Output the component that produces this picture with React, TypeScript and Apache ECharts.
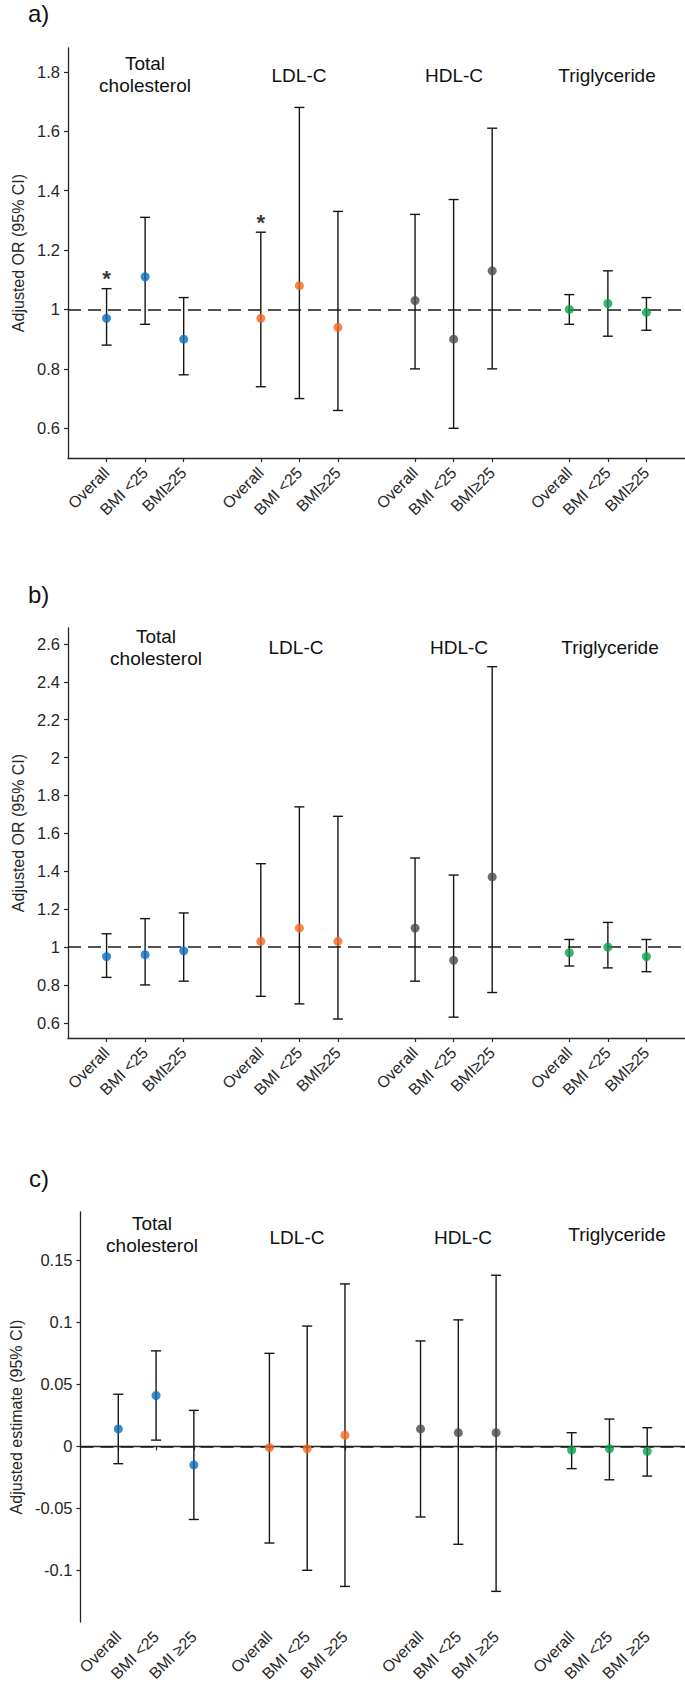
import React, { useEffect, useRef } from "react";
import * as echarts from "echarts";

// ---- data ----
const xPos = [1, 2, 3, 5, 6, 7, 9, 10, 11, 13, 14, 15];
const subLabelsAB = ["Overall", "BMI <25", "BMI≥25", "Overall", "BMI <25", "BMI≥25", "Overall", "BMI <25", "BMI≥25", "Overall", "BMI <25", "BMI≥25"];
const subLabelsC = ["Overall", "BMI <25", "BMI ≥25", "Overall", "BMI <25", "BMI ≥25", "Overall", "BMI <25", "BMI ≥25", "Overall", "BMI <25", "BMI ≥25"];
const groupNames = ["Total\ncholesterol", "LDL-C", "HDL-C", "Triglyceride"];
const groupColors = ["#0A6EBD", "#F4691F", "#4A4A4A", "#08A04B"];

const estA = [0.97, 1.11, 0.9, 0.97, 1.08, 0.94, 1.03, 0.9, 1.13, 1.0, 1.02, 0.99];
const loA = [0.88, 0.95, 0.78, 0.74, 0.7, 0.66, 0.8, 0.6, 0.8, 0.95, 0.91, 0.93];
const hiA = [1.07, 1.31, 1.04, 1.26, 1.68, 1.33, 1.32, 1.37, 1.61, 1.05, 1.13, 1.04];
const starsA = [[1, 1.12], [5, 1.31]];

const estB = [0.95, 0.96, 0.98, 1.03, 1.1, 1.03, 1.1, 0.93, 1.37, 0.97, 1.0, 0.95];
const loB = [0.84, 0.8, 0.82, 0.74, 0.7, 0.62, 0.82, 0.63, 0.76, 0.9, 0.89, 0.87];
const hiB = [1.07, 1.15, 1.18, 1.44, 1.74, 1.69, 1.47, 1.38, 2.48, 1.04, 1.13, 1.04];

const estC = [0.014, 0.041, -0.015, -0.001, -0.002, 0.009, 0.014, 0.011, 0.011, -0.003, -0.002, -0.004];
const loC = [-0.014, 0.005, -0.059, -0.078, -0.1, -0.113, -0.057, -0.079, -0.117, -0.018, -0.027, -0.024];
const hiC = [0.042, 0.077, 0.029, 0.075, 0.097, 0.131, 0.085, 0.102, 0.138, 0.011, 0.022, 0.015];

const ticksA = [0.6, 0.8, 1, 1.2, 1.4, 1.6, 1.8];
const ticksB = [0.6, 0.8, 1, 1.2, 1.4, 1.6, 1.8, 2, 2.2, 2.4, 2.6];
const ticksC = [-0.1, -0.05, 0, 0.05, 0.1, 0.15];

const FONT = "'Liberation Sans', Arial, Helvetica, sans-serif";
const AXIS_COLOR = "#262626";

function buildPanel(idx: number, est: number[], lo: number[], hi: number[], ref: number) {
  const series: any[] = [];
  series.push({
    type: "custom",
    xAxisIndex: idx,
    yAxisIndex: idx,
    z: 3,
    silent: true,
    data: xPos.map((x, i) => [x, lo[i], hi[i]]),
    encode: { x: 0, y: [1, 2] },
    renderItem: (params: any, api: any) => {
      const x = api.value(0);
      const top = api.coord([x, api.value(2)]);
      const bot = api.coord([x, api.value(1)]);
      const w = 5;
      const style = { stroke: "#151515", lineWidth: 1.4 };
      return {
        type: "group",
        children: [
          { type: "line", shape: { x1: top[0], y1: top[1], x2: bot[0], y2: bot[1] }, style },
          { type: "line", shape: { x1: top[0] - w, y1: top[1], x2: top[0] + w, y2: top[1] }, style },
          { type: "line", shape: { x1: bot[0] - w, y1: bot[1], x2: bot[0] + w, y2: bot[1] }, style },
        ],
      };
    },
  });
  groupColors.forEach((c, g) => {
    const s: any = {
      type: "scatter",
      xAxisIndex: idx,
      yAxisIndex: idx,
      z: 5,
      symbol: "circle",
      symbolSize: 9,
      itemStyle: { color: c },
      silent: true,
      data: [0, 1, 2].map((k) => [xPos[g * 3 + k], est[g * 3 + k]]),
    };
    if (g === 0) {
      s.markLine = {
        silent: true,
        symbol: "none",
        z: 2,
        label: { show: false },
        lineStyle: { color: "#1a1a1a", width: 1.5, type: [13, 7] },
        data: [{ yAxis: ref }],
      };
    }
    series.push(s);
  });
  return series;
}

function xAxisFor(idx: number, labels: string[]) {
  return {
    type: "value",
    gridIndex: idx,
    min: 0,
    max: 16,
    axisLine: { show: true, lineStyle: { color: AXIS_COLOR, width: 1.3 } },
    axisTick: { show: true, customValues: xPos, length: 4, lineStyle: { color: AXIS_COLOR, width: 1.2 } },
    splitLine: { show: false },
    axisLabel: {
      customValues: xPos,
      formatter: (v: number) => labels[xPos.indexOf(v)] ?? "",
      rotate: 45,
      margin: 12,
      fontSize: 16,
      color: AXIS_COLOR,
      fontFamily: FONT,
    },
  };
}

function yAxisFor(idx: number, min: number, max: number, ticks: number[], name: string, nameGap: number) {
  return {
    type: "value",
    gridIndex: idx,
    min,
    max,
    name,
    nameLocation: "middle",
    nameGap,
    nameTextStyle: { fontSize: 16, color: AXIS_COLOR, fontFamily: FONT },
    axisLine: { show: true, lineStyle: { color: AXIS_COLOR, width: 1.3 } },
    axisTick: { show: true, customValues: ticks, length: 4, lineStyle: { color: AXIS_COLOR, width: 1.2 } },
    splitLine: { show: false },
    axisLabel: {
      customValues: ticks,
      formatter: (v: number) => String(parseFloat(v.toFixed(3))),
      margin: 8,
      fontSize: 16.5,
      color: AXIS_COLOR,
      fontFamily: FONT,
    },
  };
}

function groupText(x: number, y: number, text: string) {
  return {
    type: "text",
    x,
    y,
    style: {
      text,
      fontSize: 19,
      lineHeight: 22,
      fontFamily: FONT,
      fill: "#111",
      align: "center",
      verticalAlign: "middle",
    },
  };
}

function tagText(x: number, y: number, text: string) {
  return {
    type: "text",
    x,
    y,
    style: { text, fontSize: 24, fontFamily: FONT, fill: "#111", align: "left", verticalAlign: "middle" },
  };
}

export default function App() {
  const ref = useRef<HTMLDivElement>(null);
  useEffect(() => {
    if (!ref.current) return;
    const chart = echarts.init(ref.current, undefined, { renderer: "svg" });
    const starSeries = {
      type: "scatter",
      xAxisIndex: 0,
      yAxisIndex: 0,
      z: 6,
      symbolSize: 1,
      itemStyle: { color: "rgba(0,0,0,0)" },
      silent: true,
      data: starsA,
      label: {
        show: true,
        position: "inside",
        formatter: "*",
        fontSize: 22,
        fontWeight: "bold",
        color: "#000",
        fontFamily: FONT,
        offset: [0, 5],
      },
    };
    const option: any = {
      animation: false,
      backgroundColor: "#ffffff",
      grid: [
        { left: 68, top: 48, width: 617, height: 410 },
        { left: 68, top: 628, width: 617, height: 410 },
        { left: 71, top: 1212, width: 614, height: 410 },
      ],
      xAxis: [xAxisFor(0, subLabelsAB), xAxisFor(1, subLabelsAB), xAxisFor(2, subLabelsC)],
      yAxis: [
        yAxisFor(0, 0.5, 1.88, ticksA, "Adjusted OR (95% CI)", 39),
        yAxisFor(1, 0.52, 2.684, ticksB, "Adjusted OR (95% CI)", 39),
        yAxisFor(2, -0.1417, 0.189, ticksC, "Adjusted estimate (95% CI)", 54),
      ],
      series: [
        ...buildPanel(0, estA, loA, hiA, 1),
        ...buildPanel(1, estB, loB, hiB, 1),
        ...buildPanel(2, estC, loC, hiC, 0),
        starSeries,
      ],
      graphic: [
        tagText(28, 13, "a)"),
        tagText(28, 594, "b)"),
        tagText(29, 1178, "c)"),
        groupText(145, 74, groupNames[0]),
        groupText(299, 75, groupNames[1]),
        groupText(454, 75, groupNames[2]),
        groupText(607, 75, groupNames[3]),
        groupText(156, 647, groupNames[0]),
        groupText(296, 647, groupNames[1]),
        groupText(459, 647, groupNames[2]),
        groupText(610, 647, groupNames[3]),
        groupText(152, 1234, groupNames[0]),
        groupText(297, 1237, groupNames[1]),
        groupText(463, 1237, groupNames[2]),
        groupText(617, 1234, groupNames[3]),
      ],
    };
    chart.setOption(option);
    return () => chart.dispose();
  }, []);
  return (
    <div
      ref={ref}
      style={{ position: "absolute", left: 0, top: 0, width: 685, height: 1688, background: "#fff" }}
    />
  );
}
